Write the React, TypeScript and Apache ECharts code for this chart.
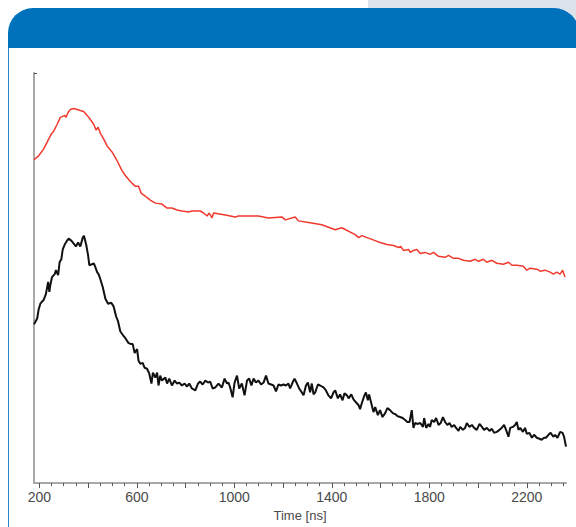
import React, { useEffect, useRef } from "react";
import * as echarts from "echarts";

// time [ns] vs. signal (arbitrary units)
const redTrace: [number, number][] = [
  [178, 328], [197, 332], [218, 339], [238, 349], [249, 354], [259, 357], [273, 364], [286, 371],
  [296, 372], [304, 373], [309, 371], [318, 376], [327, 379], [341, 380], [355, 379], [368, 378],
  [382, 377], [396, 373], [409, 369], [423, 364], [433, 358], [441, 361], [450, 355], [464, 349],
  [478, 342], [498, 336], [519, 327], [539, 317], [553, 312], [573, 306], [594, 301], [607, 301],
  [618, 294], [635, 291], [655, 287], [676, 284], [703, 283], [724, 279], [744, 279], [765, 277],
  [785, 276], [812, 275], [826, 276], [840, 276], [860, 276], [874, 274], [888, 271], [897, 274],
  [908, 269], [915, 274], [963, 272], [1004, 270], [1017, 271], [1058, 271], [1099, 271], [1140, 269],
  [1195, 270], [1209, 267], [1250, 270], [1263, 266], [1311, 264], [1359, 262], [1414, 257], [1441, 259],
  [1496, 252], [1510, 249], [1523, 251], [1578, 246], [1598, 244], [1626, 242], [1653, 241], [1674, 239],
  [1683, 240], [1694, 236], [1715, 237], [1722, 234], [1735, 236], [1749, 237], [1763, 233], [1783, 234],
  [1803, 232], [1817, 234], [1838, 230], [1865, 229], [1879, 231], [1899, 228], [1920, 228], [1940, 226],
  [1968, 225], [1988, 227], [2002, 225], [2022, 227], [2036, 224], [2057, 226], [2077, 223], [2104, 222],
  [2125, 224], [2139, 221], [2159, 221], [2186, 220], [2200, 216], [2214, 218], [2241, 217], [2255, 215],
  [2275, 216], [2296, 214], [2309, 212], [2323, 214], [2337, 212], [2347, 216], [2357, 209],
];

const blackTrace: [number, number][] = [
  [178, 161], [191, 167], [197, 176], [204, 182], [218, 186], [227, 192], [236, 204], [241, 194],
  [245, 201], [252, 209], [263, 212], [268, 216], [277, 211], [283, 224], [290, 227], [296, 237],
  [304, 242], [314, 246], [320, 248], [331, 246], [341, 243], [350, 240], [359, 244], [368, 240],
  [378, 249], [383, 251], [392, 242], [400, 231], [405, 221], [416, 222], [423, 223], [430, 219],
  [437, 214], [443, 212], [450, 207], [460, 199], [471, 187], [482, 182], [495, 183], [505, 179],
  [515, 169], [523, 164], [532, 154], [546, 149], [553, 147], [566, 142], [577, 141], [583, 141],
  [591, 132], [601, 136], [607, 124], [614, 121], [624, 122], [632, 117], [642, 116], [651, 111],
  [660, 101], [666, 112], [676, 107], [683, 112], [689, 99], [696, 109], [703, 104], [717, 107],
  [724, 101], [733, 106], [744, 99], [755, 104], [765, 101], [774, 102], [785, 99], [796, 101],
  [806, 98], [815, 101], [826, 96], [840, 94], [851, 101], [860, 103], [870, 100], [881, 104],
  [892, 102], [901, 103], [911, 96], [922, 97], [935, 101], [949, 97], [960, 106], [970, 101],
  [976, 102], [983, 97], [993, 87], [1001, 102], [1011, 109], [1020, 96], [1031, 101], [1042, 89],
  [1052, 104], [1061, 106], [1070, 99], [1079, 106], [1089, 102], [1099, 104], [1110, 100], [1120, 102],
  [1130, 109], [1140, 101], [1151, 100], [1161, 99], [1171, 93], [1181, 100], [1192, 99], [1202, 100],
  [1212, 99], [1222, 101], [1229, 96], [1239, 102], [1247, 106], [1257, 101], [1266, 96], [1277, 92],
  [1284, 89], [1294, 99], [1302, 102], [1311, 92], [1318, 101], [1325, 90], [1332, 92], [1343, 100],
  [1352, 99], [1366, 97], [1376, 94], [1386, 89], [1397, 86], [1407, 92], [1414, 94], [1425, 86],
  [1434, 90], [1444, 84], [1452, 91], [1462, 89], [1469, 86], [1480, 90], [1489, 85], [1499, 82],
  [1510, 79], [1516, 75], [1523, 81], [1534, 89], [1540, 92], [1548, 84], [1553, 90], [1562, 81],
  [1571, 72], [1578, 77], [1589, 69], [1598, 74], [1608, 67], [1619, 71], [1628, 76], [1639, 74],
  [1650, 71], [1660, 70], [1669, 68], [1680, 67], [1691, 66], [1701, 64], [1710, 62], [1719, 62],
  [1728, 74], [1735, 56], [1742, 61], [1751, 60], [1763, 61], [1774, 57], [1779, 66], [1787, 56],
  [1797, 60], [1803, 57], [1810, 64], [1820, 62], [1828, 66], [1838, 59], [1847, 61], [1856, 67],
  [1865, 62], [1874, 59], [1883, 61], [1892, 57], [1902, 59], [1910, 56], [1920, 53], [1927, 57],
  [1938, 54], [1947, 56], [1954, 61], [1965, 57], [1975, 59], [1984, 56], [1995, 54], [2006, 60],
  [2016, 57], [2025, 54], [2036, 56], [2047, 53], [2057, 55], [2066, 51], [2077, 52], [2088, 54],
  [2097, 56], [2107, 59], [2115, 54], [2125, 47], [2132, 56], [2143, 57], [2152, 59], [2159, 62],
  [2166, 54], [2173, 56], [2184, 52], [2193, 56], [2200, 50], [2211, 51], [2221, 46], [2230, 49],
  [2241, 46], [2252, 45], [2261, 44], [2271, 46], [2279, 46], [2289, 49], [2298, 51], [2309, 47],
  [2316, 49], [2326, 46], [2337, 52], [2347, 51], [2353, 47], [2361, 37],
];

const timeLabels = [200, 600, 1000, 1400, 1800, 2200];
const majorTicks = [200, 400, 600, 800, 1000, 1200, 1400, 1600, 1800, 2000, 2200];
const minorTicks = [
  200, 250, 300, 350, 400, 450, 500, 550, 600, 650, 700, 750, 800, 850, 900, 950,
  1000, 1050, 1100, 1150, 1200, 1250, 1300, 1350, 1400, 1450, 1500, 1550, 1600, 1650,
  1700, 1750, 1800, 1850, 1900, 1950, 2000, 2050, 2100, 2150, 2200, 2250, 2300, 2350,
];

const FONT = "'Liberation Sans', Arial, sans-serif";

const App: React.FC = () => {
  const chartRef = useRef<HTMLDivElement>(null);

  useEffect(() => {
    if (!chartRef.current) return;
    const chart = echarts.init(chartRef.current, null, { renderer: "svg" });

    const axisBase = {
      type: "value" as const,
      min: 178,
      max: 2361,
      position: "bottom" as const,
      splitLine: { show: false },
    };

    chart.setOption({
      animation: false,
      grid: { left: 34, right: 10, top: 73, bottom: 38 },
      xAxis: [
        {
          ...axisBase,
          name: "Time [ns]",
          nameLocation: "middle",
          nameGap: 20,
          nameTextStyle: { color: "#4a4a4a", fontSize: 13, fontFamily: FONT },
          axisLine: { lineStyle: { color: "#a8a8a8", width: 2 } },
          axisTick: { show: true, customValues: minorTicks, length: 3, lineStyle: { color: "#555", width: 1 } },
          axisLabel: {
            customValues: timeLabels,
            formatter: (v: number) => String(v),
            color: "#4a4a4a",
            fontSize: 14,
            margin: 7,
            fontFamily: FONT,
          },
        },
        {
          ...axisBase,
          axisLine: { show: false },
          axisTick: { show: true, customValues: majorTicks, length: 5, lineStyle: { color: "#555", width: 1 } },
          axisLabel: { show: false },
        },
      ],
      yAxis: {
        type: "value",
        min: 0,
        max: 416,
        splitLine: { show: false },
        axisLine: { show: true, lineStyle: { color: "#a8a8a8", width: 2 } },
        axisTick: { show: true, inside: true, customValues: [416], length: 3, lineStyle: { color: "#555", width: 1 } },
        axisLabel: { show: false },
      },
      series: [
        {
          type: "line",
          data: redTrace,
          showSymbol: false,
          lineStyle: { color: "#f03a2e", width: 1.5 },
        },
        {
          type: "line",
          data: blackTrace,
          showSymbol: false,
          lineStyle: { color: "#111", width: 2 },
        },
      ],
    });

    return () => chart.dispose();
  }, []);

  return (
    <div
      style={{
        position: "fixed",
        left: 0,
        top: 0,
        width: 576,
        height: 527,
        overflow: "hidden",
        background: "#fff",
      }}
    >
      <div style={{ position: "absolute", left: 368, top: 0, width: 208, height: 30, background: "#dce3ea" }} />
      <div
        style={{
          position: "absolute",
          left: 8,
          top: 8,
          width: 571,
          height: 40,
          background: "#0071bb",
          borderRadius: "25px 25px 0 0",
        }}
      />
      <div style={{ position: "absolute", left: 8, top: 48, width: 568, height: 479, background: "#fff", borderLeft: "1px solid #2a84c8" }} />
      <div ref={chartRef} style={{ position: "absolute", left: 0, top: 0, width: 576, height: 527 }} />
    </div>
  );
};

export default App;
